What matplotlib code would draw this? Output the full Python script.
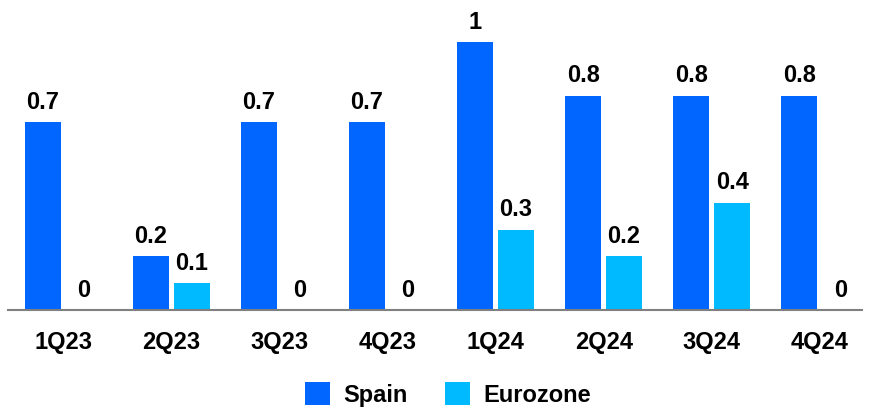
import matplotlib.pyplot as plt
import numpy as np

plt.rcParams['font.family'] = ['Liberation Sans', 'DejaVu Sans']

quarters = ['1Q23', '2Q23', '3Q23', '4Q23', '1Q24', '2Q24', '3Q24', '4Q24']
spain = [0.7, 0.2, 0.7, 0.7, 1.0, 0.8, 0.8, 0.8]
eurozone = [0, 0.1, 0, 0, 0.3, 0.2, 0.4, 0]

spain_color = '#0066FF'
euro_color = '#00BAFF'

fig = plt.figure(figsize=(8.7, 4.09), dpi=100)
ax = fig.add_axes([8 / 870, 1 - 310 / 409, 854 / 870, 310 / 409])

x = np.arange(len(quarters))
w = 0.333
off = (w + 0.046) / 2
b1 = ax.bar(x - off, spain, w, color=spain_color, label='Spain')
b2 = ax.bar(x + off, eurozone, w, color=euro_color, label='Eurozone')

for bars, vals in [(b1, spain), (b2, eurozone)]:
    for rect, v in zip(bars, vals):
        txt = '{:g}'.format(v)
        ax.annotate(txt, (rect.get_x() + rect.get_width() / 2, v),
                    xytext=(0, 6), textcoords='offset points',
                    ha='center', va='bottom', fontsize=17, fontweight='bold')

ax.set_xlim(-0.51, 7.39)
ax.set_ylim(0, 1.157)
ax.set_yticks([])
ax.set_xticks(x)
ax.set_xticklabels(quarters, fontsize=17, fontweight='bold')
ax.tick_params(axis='x', length=0, pad=15)
for s in ['top', 'right', 'left']:
    ax.spines[s].set_visible(False)
ax.spines['bottom'].set_color('#808080')
ax.spines['bottom'].set_linewidth(1.5)

fig.legend(handles=[b1, b2], loc='center', bbox_to_anchor=(448 / 870, 1 - 394.5 / 409),
           ncol=2, frameon=False, borderpad=0, borderaxespad=0,
           prop={'size': 17, 'weight': 'bold'}, handlelength=1.06, handleheight=1.06,
           columnspacing=1.57, handletextpad=0.59)

fig.savefig('out.png', dpi=100)
